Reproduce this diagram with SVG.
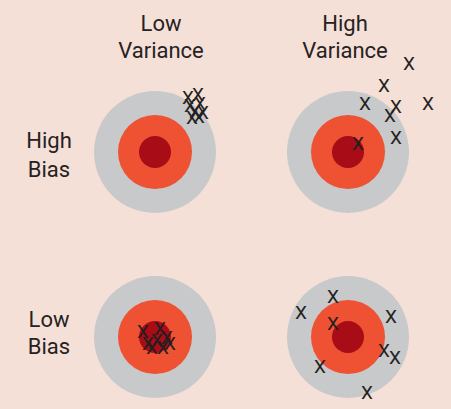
<svg xmlns="http://www.w3.org/2000/svg" width="451" height="409" viewBox="0 0 451 409">
<style>
.lbl{font-family:Roboto,"Liberation Sans",sans-serif;font-size:22px;fill:#262223;text-anchor:middle}
.x{font-family:Roboto,"Liberation Sans",sans-serif;font-size:19px;font-weight:400;fill:#231f20;text-anchor:middle}
.outer{fill:#c8c9cb}.mid{fill:#ef5133}.inner{fill:#a80c17}
</style>
<rect width="451" height="409" fill="#f5e0d7"/>
<g id="labels">
<text class="lbl" x="161" y="31">Low</text>
<text class="lbl" x="161" y="58">Variance</text>
<text class="lbl" x="345" y="31">High</text>
<text class="lbl" x="345" y="58">Variance</text>
<text class="lbl" x="49" y="148">High</text>
<text class="lbl" x="49" y="177">Bias</text>
<text class="lbl" x="49" y="327">Low</text>
<text class="lbl" x="49" y="354">Bias</text>
</g>
<g id="target-hb-lv">
<circle class="outer" cx="155" cy="152" r="61"/>
<circle class="mid" cx="155" cy="152" r="37"/>
<circle class="inner" cx="155" cy="152" r="16"/>
<g transform="translate(0,7)">
<text class="x" x="188" y="97">X</text>
<text class="x" x="198" y="94">X</text>
<text class="x" x="190" y="105">X</text>
<text class="x" x="200" y="103">X</text>
<text class="x" x="195" y="111">X</text>
<text class="x" x="203" y="112">X</text>
<text class="x" x="192" y="117">X</text>
<text class="x" x="199" y="116">X</text>
</g>
</g>
<g id="target-hb-hv">
<circle class="outer" cx="348" cy="152" r="61"/>
<circle class="mid" cx="348" cy="152" r="37"/>
<circle class="inner" cx="348" cy="152" r="16"/>
<g transform="translate(0,7)">
<text class="x" x="409" y="63">X</text>
<text class="x" x="384" y="85">X</text>
<text class="x" x="365" y="103">X</text>
<text class="x" x="396" y="106">X</text>
<text class="x" x="428" y="103">X</text>
<text class="x" x="390" y="115">X</text>
<text class="x" x="396" y="137">X</text>
<text class="x" x="358" y="143">X</text>
</g>
</g>
<g id="target-lb-lv">
<circle class="outer" cx="155" cy="337" r="61"/>
<circle class="mid" cx="155" cy="337" r="37"/>
<circle class="inner" cx="155" cy="337" r="16"/>
<g transform="translate(0,7)">
<text class="x" x="143" y="331">X</text>
<text class="x" x="160" y="328">X</text>
<text class="x" x="148" y="343">X</text>
<text class="x" x="157" y="340">X</text>
<text class="x" x="167" y="337">X</text>
<text class="x" x="163" y="347">X</text>
<text class="x" x="152" y="347">X</text>
<text class="x" x="170" y="343">X</text>
</g>
</g>
<g id="target-lb-hv">
<circle class="outer" cx="348" cy="337" r="61"/>
<circle class="mid" cx="348" cy="337" r="37"/>
<circle class="inner" cx="348" cy="337" r="16"/>
<g transform="translate(0,7)">
<text class="x" x="333" y="296">X</text>
<text class="x" x="301" y="312">X</text>
<text class="x" x="391" y="316">X</text>
<text class="x" x="333" y="323">X</text>
<text class="x" x="384" y="350">X</text>
<text class="x" x="395" y="357">X</text>
<text class="x" x="320" y="366">X</text>
<text class="x" x="367" y="392">X</text>
</g>
</g>
<g id="connectors"/>
</svg>
